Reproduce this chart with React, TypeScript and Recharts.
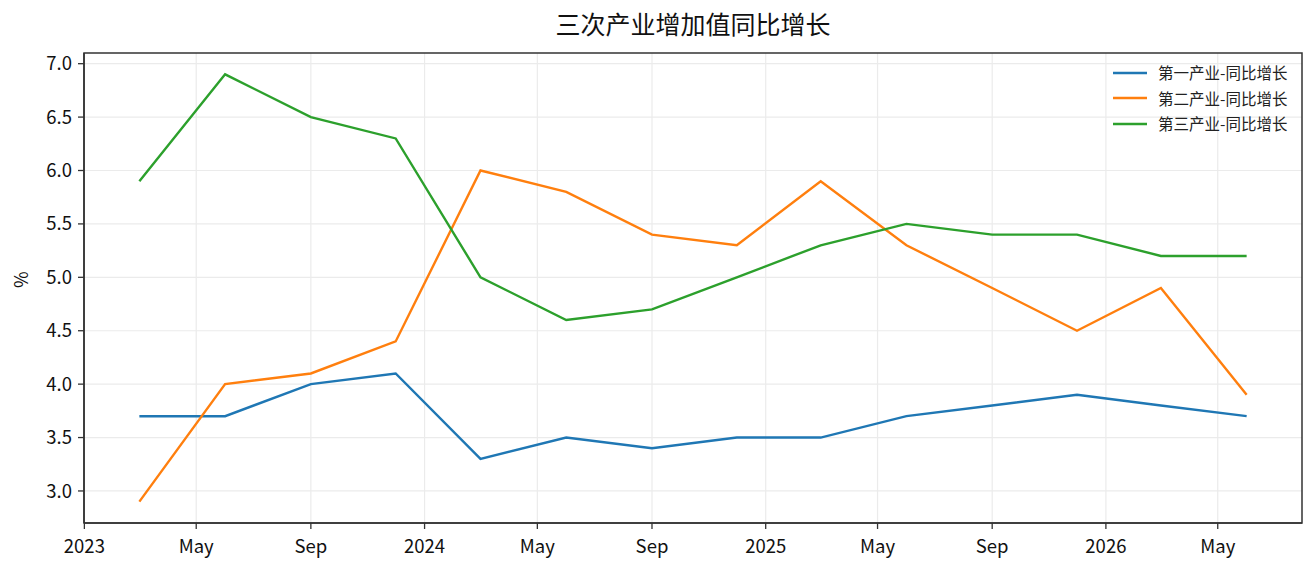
import { LineChart, Line, XAxis, YAxis, CartesianGrid, Legend, ReferenceArea } from "recharts";

/* ── Data ───────────────────────────────────────────────────── */
const periods = [
  "2023-03-01", "2023-06-01", "2023-09-01", "2023-12-01",
  "2024-03-01", "2024-06-01", "2024-09-01", "2024-12-01",
  "2025-03-01", "2025-06-01", "2025-09-01", "2025-12-01",
  "2026-03-01", "2026-06-01",
];
const primaryGrowth = [3.7, 3.7, 4.0, 4.1, 3.3, 3.5, 3.4, 3.5, 3.5, 3.7, 3.8, 3.9, 3.8, 3.7];
const secondaryGrowth = [2.9, 4.0, 4.1, 4.4, 6.0, 5.8, 5.4, 5.3, 5.9, 5.3, 4.9, 4.5, 4.9, 3.9];
const tertiaryGrowth = [5.9, 6.9, 6.5, 6.3, 5.0, 4.6, 4.7, 5.0, 5.3, 5.5, 5.4, 5.4, 5.2, 5.2];

const seriesNames = ["第一产业-同比增长", "第二产业-同比增长", "第三产业-同比增长"];
const seriesColors = ["#1f77b4", "#ff7f0e", "#2ca02c"];

const xTickDates = [
  "2023-01-01", "2023-05-01", "2023-09-01",
  "2024-01-01", "2024-05-01", "2024-09-01",
  "2025-01-01", "2025-05-01", "2025-09-01",
  "2026-01-01", "2026-05-01",
];
const monthNames = ["Jan", "Feb", "Mar", "Apr", "May", "Jun", "Jul", "Aug", "Sep", "Oct", "Nov", "Dec"];
const yTicks = [3.0, 3.5, 4.0, 4.5, 5.0, 5.5, 6.0, 6.5, 7.0];

const FONT = '"Noto Sans CJK SC", "Noto Sans", sans-serif';
const AXIS = "#333333";

const data = periods.map((p, i) => ({
  t: Date.parse(p),
  primary: primaryGrowth[i],
  secondary: secondaryGrowth[i],
  tertiary: tertiaryGrowth[i],
}));

const tFirst = data[0].t;
const tLast = data[data.length - 1].t;
const pad = (tLast - tFirst) * 0.05;
const xDomain: [number, number] = [tFirst - pad, tLast + pad];
const yDomain: [number, number] = [2.7, 7.1];
const xTicks = xTickDates.map((d) => Date.parse(d));

function formatDate(v: number) {
  const d = new Date(v);
  const m = d.getUTCMonth();
  return m === 0 ? String(d.getUTCFullYear()) : monthNames[m];
}

/* ── Legend ─────────────────────────────────────────────────── */
function LegendBox() {
  return (
    <div style={{ fontFamily: FONT, fontSize: 15.5, color: "#222" }}>
      {seriesNames.map((n, i) => (
        <div key={n} style={{ display: "flex", alignItems: "center", height: 25.5 }}>
          <svg width={34} height={4} style={{ display: "block" }}>
            <line x1={0} y1={2} x2={34} y2={2} stroke={seriesColors[i]} strokeWidth={2.4} />
          </svg>
          <span style={{ marginLeft: 11, lineHeight: "25px" }}>{n}</span>
        </div>
      ))}
    </div>
  );
}

export default function App() {
  const keys = ["primary", "secondary", "tertiary"];
  return (
    <div style={{ position: "absolute", left: 0, top: 0, width: 1316, height: 573, background: "#fff" }}>
      <div
        style={{
          position: "absolute",
          left: 84,
          width: 1218,
          top: 5,
          textAlign: "center",
          fontFamily: FONT,
          fontSize: 25,
          color: "#111",
        }}
      >
        三次产业增加值同比增长
      </div>
      <LineChart width={1316} height={573} data={data} margin={{ top: 53, right: 14, bottom: 0, left: 0 }}>
        <CartesianGrid stroke="#ebebeb" strokeWidth={1.2} horizontalValues={yTicks} verticalValues={xTicks} />
        <XAxis
          dataKey="t"
          type="number"
          domain={xDomain}
          allowDataOverflow
          ticks={xTicks}
          tickFormatter={formatDate}
          height={50}
          tickSize={6}
          tickMargin={11}
          stroke={AXIS}
          axisLine={{ stroke: AXIS, strokeWidth: 1.5 }}
          tickLine={{ stroke: AXIS, strokeWidth: 1.3 }}
          tick={{ fill: "#111", fontSize: 18.5, fontFamily: FONT }}
          interval={0}
        />
        <YAxis
          type="number"
          domain={yDomain}
          allowDataOverflow
          ticks={yTicks}
          tickFormatter={(v: number) => v.toFixed(1)}
          width={84}
          tickSize={6}
          tickMargin={6}
          axisLine={{ stroke: AXIS, strokeWidth: 1.5 }}
          tickLine={{ stroke: AXIS, strokeWidth: 1.3 }}
          tick={{ fill: "#111", fontSize: 18.5, fontFamily: FONT }}
          interval={0}
          label={{
            value: "%",
            angle: -90,
            position: "insideLeft",
            offset: 22,
            fill: "#111",
            fontSize: 18,
            fontFamily: FONT,
          }}
        />
        <Legend
          layout="vertical"
          align="center"
          verticalAlign="middle"
          content={() => <LegendBox />}
          wrapperStyle={{ left: 1113, top: 60, width: 190, height: 80 }}
        />
        {keys.map((k, i) => (
          <Line
            key={k}
            type="linear"
            dataKey={k}
            name={seriesNames[i]}
            stroke={seriesColors[i]}
            strokeWidth={2.4}
            dot={false}
            activeDot={false}
            isAnimationActive={false}
          />
        ))}
        <ReferenceArea
          x1={xDomain[0]}
          x2={xDomain[1]}
          y1={yDomain[0]}
          y2={yDomain[1]}
          fill="none"
          stroke={AXIS}
          strokeWidth={1.5}
          ifOverflow="visible"
        />
      </LineChart>
    </div>
  );
}
